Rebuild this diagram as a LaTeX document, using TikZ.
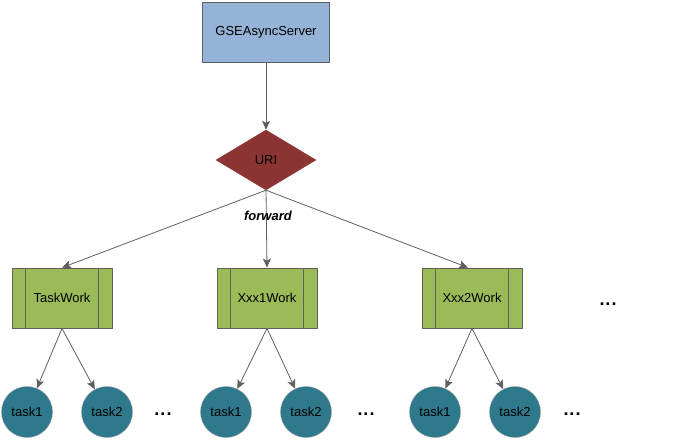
\documentclass[tikz,border=0pt]{standalone}
\usepackage{fontspec}
\setmainfont{Liberation Sans}
\usetikzlibrary{shapes.geometric,arrows.meta}
\definecolor{serverblue}{HTML}{95B3D7}
\definecolor{urired}{HTML}{8C3434}
\definecolor{workgreen}{HTML}{9BBB59}
\definecolor{taskteal}{HTML}{2E7A8C}
\definecolor{edgegray}{HTML}{5F5F5F}
\tikzset{
  serverbox/.style={draw=edgegray, fill=serverblue, minimum width=127pt, minimum height=60pt, inner sep=0pt},
  uribox/.style={diamond, draw=urired, fill=urired, minimum width=100pt, minimum height=60pt, inner sep=0pt, aspect=1.667},
  workbox/.style={draw=edgegray, line width=0.8pt, fill=workgreen, minimum width=100pt, minimum height=60pt, inner sep=0pt},
  taskcirc/.style={circle, draw=gray!80, fill=taskteal, minimum size=51pt, inner sep=0pt},
  link/.style={-{Stealth[length=9pt,width=8pt,inset=2pt]}, draw=edgegray, line width=0.8pt},
  dots/.style={anchor=base, font=\fontsize{18}{18}\selectfont\bfseries},
}
\begin{document}
\begin{tikzpicture}[x=1pt, y=-1pt, font=\fontsize{13}{15}\selectfont, line join=round]
	\useasboundingbox (0,0) rectangle (675,441);
	\node[serverbox] (srv) at (266,32) {GSEAsyncServer};
	\node[uribox] (uri) at (266,160) {URI};
	\node[workbox] (w1) at (62,298) {TaskWork};
	\node[workbox] (w2) at (267,298) {Xxx1Work};
	\node[workbox] (w3) at (472,298) {Xxx2Work};
	\node[dots] (dw) at (608,305) {.\hspace{1pt}.\hspace{1pt}.};
	% inner lines of the work boxes
	\foreach \w in {w1,w2,w3}
	{
		\draw[edgegray, line width=0.8pt] ([xshift=14pt]\w.north west) -- ([xshift=14pt]\w.south west);
		\draw[edgegray, line width=0.8pt] ([xshift=-14pt]\w.north east) -- ([xshift=-14pt]\w.south east);
	}
	\node[taskcirc] (t11) at (27,412) {task1};
	\node[taskcirc] (t12) at (107,412) {task2};
	\node[dots] (d1) at (163,415) {.\hspace{1pt}.\hspace{1pt}.};
	\node[taskcirc] (t21) at (226,412) {task1};
	\node[taskcirc] (t22) at (306,412) {task2};
	\node[dots] (d2) at (366,415) {.\hspace{1pt}.\hspace{1pt}.};
	\node[taskcirc] (t31) at (435,412) {task1};
	\node[taskcirc] (t32) at (515,412) {task2};
	\node[dots] (d3) at (572,415) {.\hspace{1pt}.\hspace{1pt}.};
	\draw[link] (srv) -- (uri);
	\draw[link] (uri.south) -- (w1.north);
	\draw[link] (uri.south) -- (w2.north);
	\draw[link] (uri.south) -- ([xshift=-4pt]w3.north);
	\node[font=\fontsize{13}{15}\selectfont\bfseries\itshape] (fw) at (268,216) {forward};
	\draw[link] (w1.south) -- (t11);
	\draw[link] (w1.south) -- (t12);
	\draw[link] (w2.south) -- (t21);
	\draw[link] (w2.south) -- (t22);
	\draw[link] (w3.south) -- (t31);
	\draw[link] (w3.south) -- (t32);
\end{tikzpicture}
\end{document}
